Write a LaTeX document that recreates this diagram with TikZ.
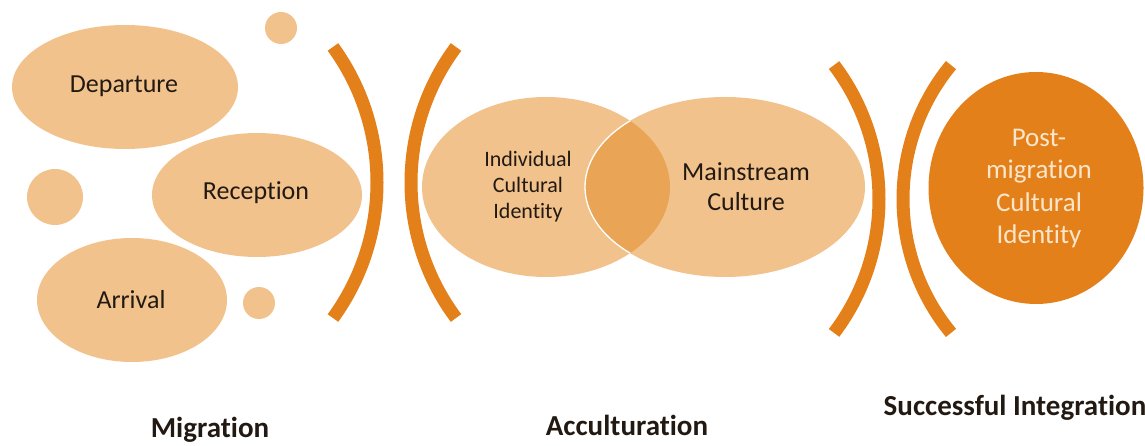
\documentclass[tikz,border=0pt]{standalone}
\usepackage{fontspec}
\setmainfont{Carlito}[RawFeature={-liga;-clig;-dlig}]
\usetikzlibrary{shapes.geometric}
\definecolor{peach}{RGB}{242,194,140}
\definecolor{lens}{RGB}{233,165,85}
\definecolor{deeporange}{RGB}{228,128,26}
\definecolor{cream}{RGB}{251,230,204}
\definecolor{ink}{RGB}{34,26,18}
\tikzset{
  blob/.style={ellipse, fill=peach, draw=none, inner sep=0pt},
  dot/.style={circle, fill=peach, draw=none, inner sep=0pt},
  lbl/.style={text=ink, align=center, font=\fontsize{26}{30}\selectfont},
  smalllbl/.style={text=ink, align=center, font=\fontsize{22}{26}\selectfont},
  stage/.style={text=ink, font=\bfseries\fontsize{29}{34}\selectfont},
  bracket/.style={draw=deeporange, line width=13pt, line cap=butt},
}
\begin{document}
\begin{tikzpicture}[x=1pt, y=-1pt]
\useasboundingbox (0,0) rectangle (1145,446);

% Migration: three stages and loose dots
\node[blob, minimum width=226pt, minimum height=124pt] (dep) at (125,87) {};
\node[blob, minimum width=210pt, minimum height=124pt] (rec) at (257,195) {};
\node[blob, minimum width=190pt, minimum height=124pt] (arr) at (132,300) {};
\node[dot, minimum size=32pt] (d1) at (281,28) {};
\node[dot, minimum size=56pt] (d2) at (55,197) {};
\node[dot, minimum size=32pt] (d3) at (259,303) {};
\node[lbl] (tdep) at (124,86) {Departure};
\node[lbl] (trec) at (256,193) {Reception};
\node[lbl] (tarr) at (131,300) {Arrival};

% Brackets around the acculturation stage
\draw[bracket] (146.4,182.5) ++(-36:230.6) arc[start angle=-36, end angle=36, radius=230.6];
\draw[bracket] (637.5,182.5) ++(216.75:226.5) arc[start angle=216.75, end angle=143.25, radius=226.5];
\draw[bracket] (657,199) ++(-37.1:222) arc[start angle=-37.1, end angle=37.1, radius=222];
\draw[bracket] (1114,199) ++(219.4:211) arc[start angle=219.4, end angle=140.6, radius=211];

% Acculturation: overlapping cultures
\node[blob, minimum width=248pt, minimum height=180pt] (ind) at (546,187) {};
\node[blob, minimum width=280pt, minimum height=180pt] (main) at (725,187) {};
\begin{scope}
  \clip (ind.center) ellipse [x radius=124, y radius=90];
  \fill[lens] (main.center) ellipse [x radius=140, y radius=90];
  \draw[white, line width=1.3pt] (main.center) ellipse [x radius=140, y radius=90];
\end{scope}
\node[smalllbl] (tind) at (528,187) {Individual\\Cultural\\Identity};
\node[lbl] (tmain) at (746,187) {Mainstream\\Culture};

% Successful integration
\node[ellipse, fill=deeporange, inner sep=0pt, minimum width=215pt, minimum height=232pt] (post) at (1036,188) {};
\node[text=cream, align=center, font=\fontsize{27}{32.5}\selectfont] (tpost) at (1039,188.5) {Post-\\migration\\Cultural\\Identity};

% Stage captions
\node[stage] (cmig) at (210,430) {Migration};
\node[stage] (cacc) at (627,425) {Acculturation};
\node[stage] (cint) at (1015,408) {Successful Integration};
\end{tikzpicture}
\end{document}
